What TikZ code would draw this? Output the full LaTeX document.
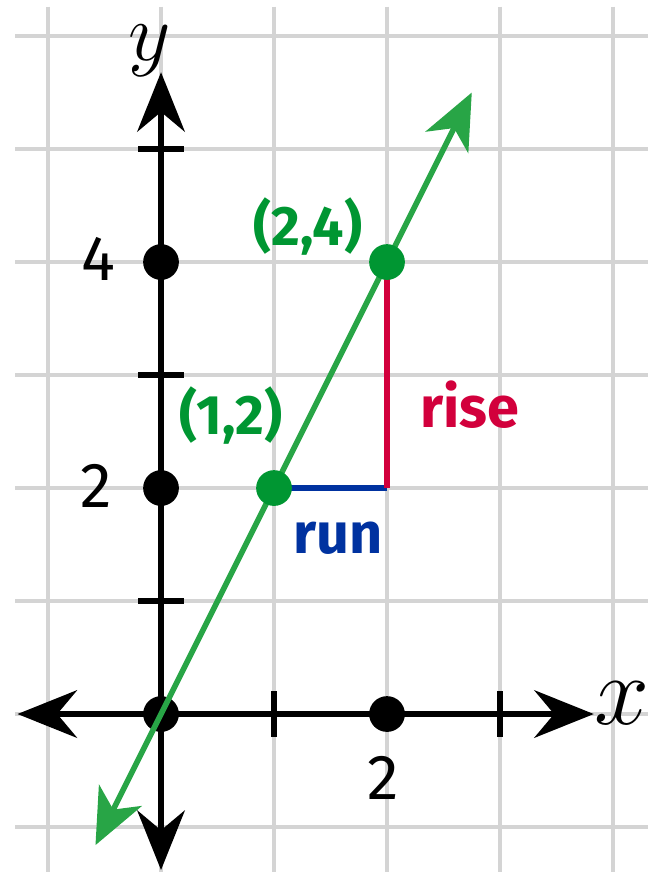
\documentclass[tikz,border=0pt]{standalone}
\usepackage{fontspec}
\setsansfont{Fira Sans}
\usetikzlibrary{arrows.meta}
\definecolor{gridgray}{RGB}{212,212,212}
\definecolor{ptgreen}{RGB}{0,150,50}
\definecolor{linegreen}{RGB}{40,165,70}
\definecolor{runblue}{RGB}{0,50,160}
\definecolor{risered}{RGB}{210,0,60}
\begin{document}
\begin{tikzpicture}[x=1cm,y=1cm,
  gridline/.style={draw=gridgray, line width=0.8pt},
  axisline/.style={line width=1.3pt,
    {Stealth[length=15pt,width=12pt,inset=5pt]}-{Stealth[length=15pt,width=12pt,inset=5pt]}},
  tickmark/.style={line width=1.3pt},
  blackdot/.style={circle, fill=black, inner sep=0pt, minimum size=9pt},
  greendot/.style={circle, fill=ptgreen, inner sep=0pt, minimum size=9pt},
  greenline/.style={draw=linegreen, line width=1.4pt,
    {Stealth[length=14pt,width=12pt,inset=4pt]}-{Stealth[length=14pt,width=12pt,inset=4pt]}},
  runline/.style={draw=runblue, line width=1.3pt},
  riseline/.style={draw=risered, line width=1.3pt},
  numlabel/.style={font=\sffamily\fontsize{16}{18}\selectfont, anchor=base},
  ptlabel/.style={font=\sffamily\bfseries\fontsize{14}{16}\selectfont, text=ptgreen, anchor=base},
  wordlabel/.style={font=\sffamily\bfseries\fontsize{14.5}{16}\selectfont, anchor=base}
]
\useasboundingbox (-1.425,-1.398) rectangle (4.310,6.319);
% grid
\foreach \x in {-1,...,4} \draw[gridline] (\x,6.26) -- (\x,-1.398);
\foreach \y in {-1,...,6} \draw[gridline] (-1.29,\y) -- (4.31,\y);
% axes
\coordinate (xl) at (-1.27,0);
\coordinate (xr) at (3.83,0);
\coordinate (yb) at (0,-1.38);
\coordinate (yt) at (0,5.68);
\draw[axisline] (xl) -- (xr);
\draw[axisline] (yb) -- (yt);
% ticks
\foreach \t in {1,3,5} \draw[tickmark] (-0.2,\t) -- (0.2,\t);
\foreach \t in {1,3} \draw[tickmark] (\t,-0.2) -- (\t,0.2);
% black dots
\node[blackdot] (o) at (0,0) {};
\node[blackdot] (y2) at (0,2) {};
\node[blackdot] (y4) at (0,4) {};
\node[blackdot] (x2) at (2,0) {};
% run and rise
\coordinate (corner) at (2,2);
\coordinate (p1) at (1,2);
\coordinate (p2) at (2,4);
\draw[runline] (p1) -- (corner);
\draw[riseline] (corner) -- (p2);
% green line
\coordinate (gl) at (-0.58,-1.16);
\coordinate (gu) at (2.75,5.5);
\draw[greenline] (gl) -- (gu);
\node[greendot] (a) at (p1) {};
\node[greendot] (b) at (p2) {};
% labels
\node[ptlabel] (la) at (0.62,2.47) {(1,2)};
\node[ptlabel] (lb) at (1.30,4.15) {(2,4)};
\node[wordlabel, text=risered] (rise) at (2.73,2.54) {rise};
\node[wordlabel, text=runblue] (run) at (1.57,1.425) {run};
\node[numlabel] (n4) at (-0.55,3.84) {4};
\node[numlabel] (n2) at (-0.57,1.83) {2};
\node[numlabel] (m2) at (1.97,-0.76) {2};
\node[font=\fontsize{20}{22}\selectfont, inner sep=0pt] (ylab) at (-0.10,5.87) {$y$};
\node[font=\fontsize{24}{26}\selectfont, inner sep=0pt] (xlab) at (4.08,0.10) {$x$};
\end{tikzpicture}
\end{document}
